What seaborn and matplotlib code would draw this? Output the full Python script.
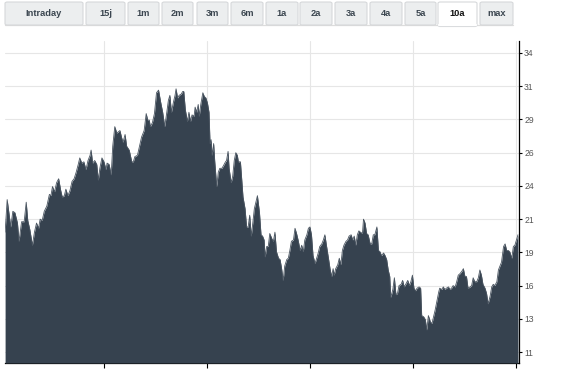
import matplotlib
matplotlib.use("Agg")
import matplotlib.pyplot as plt
from matplotlib.patches import FancyBboxPatch
from matplotlib.lines import Line2D
import seaborn as sns
import pandas as pd

# ---------------- data ----------------
years = [
    2004.08, 2004.12, 2004.19, 2004.23, 2004.27, 2004.32, 2004.35, 2004.40, 2004.45, 2004.49,
    2004.52, 2004.56, 2004.61, 2004.65, 2004.69, 2004.73, 2004.76, 2004.80, 2004.84, 2004.89,
    2004.94, 2004.97, 2005.00, 2005.04, 2005.08, 2005.12, 2005.16, 2005.19, 2005.23, 2005.26,
    2005.30, 2005.34, 2005.38, 2005.42, 2005.46, 2005.50, 2005.53, 2005.57, 2005.61, 2005.65,
    2005.69, 2005.73, 2005.75, 2005.78, 2005.82, 2005.86, 2005.89, 2005.92, 2005.96, 2006.00,
    2006.04, 2006.06, 2006.10, 2006.14, 2006.17, 2006.21, 2006.25, 2006.28, 2006.31, 2006.34,
    2006.37, 2006.41, 2006.44, 2006.49, 2006.54, 2006.57, 2006.60, 2006.65, 2006.69, 2006.73,
    2006.78, 2006.82, 2006.85, 2006.88, 2006.90, 2006.94, 2006.98, 2007.02, 2007.06, 2007.10,
    2007.14, 2007.18, 2007.22, 2007.25, 2007.28, 2007.31, 2007.35, 2007.38, 2007.40, 2007.43,
    2007.46, 2007.50, 2007.53, 2007.55, 2007.58, 2007.62, 2007.65, 2007.68, 2007.71, 2007.75,
    2007.77, 2007.80, 2007.83, 2007.85, 2007.88, 2007.92, 2007.95, 2007.98, 2008.01, 2008.04,
    2008.06, 2008.08, 2008.10, 2008.13, 2008.15, 2008.19, 2008.22, 2008.25, 2008.29, 2008.32,
    2008.36, 2008.38, 2008.41, 2008.43, 2008.47, 2008.50, 2008.53, 2008.56, 2008.59, 2008.61,
    2008.65, 2008.68, 2008.70, 2008.74, 2008.77, 2008.80, 2008.83, 2008.86, 2008.89, 2008.92,
    2008.95, 2008.98, 2009.02, 2009.05, 2009.08, 2009.11, 2009.13, 2009.16, 2009.19, 2009.22,
    2009.26, 2009.29, 2009.32, 2009.35, 2009.39, 2009.42, 2009.45, 2009.48, 2009.51, 2009.55,
    2009.58, 2009.61, 2009.64, 2009.68, 2009.71, 2009.74, 2009.77, 2009.81, 2009.84, 2009.87,
    2009.90, 2009.94, 2009.97, 2010.00, 2010.03, 2010.06, 2010.10, 2010.13, 2010.16, 2010.19,
    2010.23, 2010.26, 2010.29, 2010.32, 2010.36, 2010.39, 2010.42, 2010.45, 2010.47, 2010.50,
    2010.54, 2010.57, 2010.60, 2010.63, 2010.66, 2010.70, 2010.73, 2010.76, 2010.80, 2010.83,
    2010.86, 2010.89, 2010.92, 2010.95, 2010.98, 2011.02, 2011.04, 2011.07, 2011.10, 2011.13,
    2011.17, 2011.20, 2011.23, 2011.26, 2011.30, 2011.33, 2011.36, 2011.39, 2011.43, 2011.46,
    2011.49, 2011.52, 2011.55, 2011.57, 2011.61, 2011.64, 2011.67, 2011.70, 2011.73, 2011.77,
    2011.80, 2011.83, 2011.86, 2011.90, 2011.93, 2011.96, 2011.99, 2012.02, 2012.05, 2012.08,
    2012.12, 2012.15, 2012.17, 2012.21, 2012.24, 2012.27, 2012.30, 2012.34, 2012.37, 2012.40,
    2012.43, 2012.47, 2012.50, 2012.52, 2012.56, 2012.59, 2012.62, 2012.65, 2012.69, 2012.72,
    2012.75, 2012.78, 2012.82, 2012.85, 2012.88, 2012.91, 2012.95, 2012.98, 2013.01, 2013.04,
    2013.07, 2013.11, 2013.14, 2013.17, 2013.20, 2013.24, 2013.27, 2013.30, 2013.33, 2013.36,
    2013.40, 2013.43, 2013.46, 2013.50, 2013.53, 2013.56, 2013.59, 2013.63, 2013.66, 2013.69,
    2013.72, 2013.76, 2013.79, 2013.82, 2013.85, 2013.88, 2013.92, 2013.95, 2013.98, 2014.01,
    2014.04,
]
prices = [
    20.1, 22.6, 20.5, 21.7, 21.6, 20.8, 19.4, 20.9, 20.9, 22.4,
    21.0, 20.3, 19.1, 20.1, 20.8, 20.4, 21.1, 21.0, 21.7, 22.1,
    23.0, 22.9, 23.6, 23.2, 23.9, 24.2, 23.3, 22.8, 22.9, 23.4,
    22.9, 23.3, 24.0, 24.2, 24.7, 25.3, 25.8, 25.4, 25.5, 24.9,
    25.6, 26.0, 26.4, 25.4, 25.6, 25.3, 24.1, 25.0, 25.8, 25.5,
    24.9, 25.4, 25.3, 24.5, 26.7, 28.2, 27.7, 27.8, 27.9, 27.4,
    27.0, 27.6, 26.7, 26.4, 25.5, 25.5, 25.9, 26.0, 26.7, 27.4,
    27.9, 29.2, 28.7, 28.7, 28.2, 28.5, 29.2, 30.8, 31.0, 30.1,
    29.3, 28.2, 29.3, 30.2, 30.6, 29.3, 30.1, 30.6, 31.1, 30.4,
    30.6, 30.7, 30.9, 30.9, 29.5, 28.6, 29.3, 28.6, 29.1, 29.0,
    29.7, 29.3, 29.9, 29.0, 29.9, 30.8, 30.5, 30.4, 30.0, 29.3,
    26.9, 27.2, 26.0, 26.9, 25.6, 23.6, 24.7, 25.0, 25.0, 25.2,
    25.5, 25.6, 26.3, 25.0, 23.9, 24.4, 25.6, 26.2, 26.0, 25.5,
    25.5, 23.9, 22.8, 21.9, 20.5, 20.5, 21.4, 19.8, 20.8, 21.9,
    22.4, 22.9, 21.6, 19.9, 19.8, 19.5, 18.2, 19.0, 19.0, 20.0,
    19.6, 19.4, 20.1, 18.6, 18.1, 18.0, 17.3, 16.4, 17.5, 18.0,
    18.1, 18.7, 19.4, 19.5, 20.4, 20.0, 19.5, 18.7, 19.1, 18.6,
    19.5, 19.9, 20.4, 20.5, 19.9, 18.3, 17.7, 18.1, 18.5, 19.0,
    19.2, 19.5, 19.9, 19.1, 18.1, 17.3, 16.7, 17.3, 16.8, 17.3,
    17.6, 18.1, 17.6, 18.7, 19.1, 19.4, 19.5, 19.8, 19.9, 19.5,
    19.8, 19.1, 19.9, 20.2, 20.1, 20.0, 21.1, 20.8, 20.0, 19.9,
    19.2, 19.2, 19.9, 19.9, 20.5, 18.7, 18.6, 18.3, 18.5, 18.3,
    18.0, 17.2, 16.7, 15.1, 15.7, 16.6, 15.3, 15.4, 16.0, 16.1,
    16.4, 15.9, 16.1, 16.4, 16.0, 16.3, 16.8, 15.8, 15.6, 15.8,
    15.9, 15.8, 13.7, 13.6, 13.4, 12.6, 13.7, 13.2, 13.1, 13.6,
    14.1, 14.9, 15.5, 15.8, 15.7, 15.9, 15.7, 15.8, 15.9, 15.7,
    15.8, 16.0, 15.9, 16.3, 16.8, 16.9, 17.1, 17.3, 16.7, 16.7,
    15.8, 15.9, 16.0, 16.6, 16.3, 16.3, 16.6, 17.2, 16.8, 16.1,
    15.8, 15.4, 14.6, 15.2, 15.9, 16.1, 16.0, 16.3, 17.2, 17.5,
    17.8, 19.0, 19.2, 18.7, 18.7, 18.6, 18.1, 19.0, 19.1, 19.5,
    19.9,
]
y_tick_values = [10.9, 13.45, 16.0, 18.55, 21.1, 23.65, 26.2, 28.75, 31.3, 33.85]
y_tick_labels = ["11", "13", "16", "19", "21", "24", "26", "29", "31", "34"]
x_tick_years = [2006, 2008, 2010, 2012, 2014]
periods = ["Intraday", "15j", "1m", "2m", "3m", "6m", "1a", "2a", "3a", "4a", "5a", "10a", "max"]
selected_period = "10a"

df = pd.DataFrame({"year": years, "price": prices})

# ---------------- figure ----------------
W, H = 575, 369
sns.set_theme(style="white")
plt.rcParams["font.family"] = ["Liberation Sans", "DejaVu Sans"]

fig = plt.figure(figsize=(W / 100, H / 100), dpi=100)
fig.patch.set_facecolor("white")

def fx(px):
    return px / W

def fy(py):
    return 1 - py / H

ax = fig.add_axes([fx(5), fy(363), fx(519) - fx(5), fy(41) - fy(363)])
ax.set_facecolor("white")

fill_color = "#36424f"
y_bottom, y_top = 10.06, 34.77
ax.fill_between(df["year"], df["price"], y_bottom, color=fill_color, lw=0, zorder=3)
sns.lineplot(data=df, x="year", y="price", ax=ax, color="#4a5561", lw=0.6, zorder=4)

ax.set_xlim(2004.078, 2014.06)
ax.set_ylim(y_bottom, y_top)

ax.yaxis.tick_right()
ax.set_yticks(y_tick_values)
ax.set_yticklabels(y_tick_labels)
ax.set_xticks(x_tick_years)
ax.set_xticklabels([])
ax.set_xlabel("")
ax.set_ylabel("")

ax.grid(True, color="#e6e6e6", lw=0.8, zorder=0)
ax.set_axisbelow(True)

for side in ["left", "top"]:
    ax.spines[side].set_visible(False)
for side in ["right", "bottom"]:
    ax.spines[side].set_visible(True)
    ax.spines[side].set_color("black")
    ax.spines[side].set_linewidth(0.9)

ax.tick_params(axis="y", which="both", right=True, left=False, direction="out",
               length=2.5, width=0.8, color="black", pad=1.2,
               labelsize=6.2, labelcolor="#555555")
ax.tick_params(axis="x", which="both", bottom=True, direction="out",
               length=3.8, width=0.8, color="black")

# ---------------- period tabs ----------------
tab_edges = [(5, 83), (86, 125), (128, 159), (162, 193), (197, 228), (231, 263),
             (266, 298), (300, 332), (335, 367), (370, 402), (405, 436), (438, 477), (480, 513)]
top_px, bot_px = 2, 25
fig.add_artist(Line2D([fx(5), fx(513)], [fy(25), fy(25)], color="#dcdcdc", lw=0.9))
for label, (l, r) in zip(periods, tab_edges):
    sel = label == selected_period
    bottom = bot_px + (1.5 if sel else 0)
    patch = FancyBboxPatch((fx(l), fy(bottom)), fx(r) - fx(l), fy(top_px) - fy(bottom),
                           boxstyle="round,pad=0,rounding_size=0.004",
                           transform=fig.transFigure,
                           facecolor="white" if sel else "#eceeef",
                           edgecolor="#d6d8da", lw=0.8, zorder=2)
    fig.add_artist(patch)
    if sel:
        fig.add_artist(Line2D([fx(l + 0.7), fx(r - 0.7)], [fy(25), fy(25)],
                              color="white", lw=1.6, zorder=3))
    fig.text(fx((l + r) / 2), fy((top_px + bot_px) / 2 + 0.5), label,
             ha="center", va="center", fontsize=6.7, fontweight="bold",
             color="#111111" if sel else "#3b4650", zorder=4)

fig.savefig("out.png", dpi=100, facecolor="white")
